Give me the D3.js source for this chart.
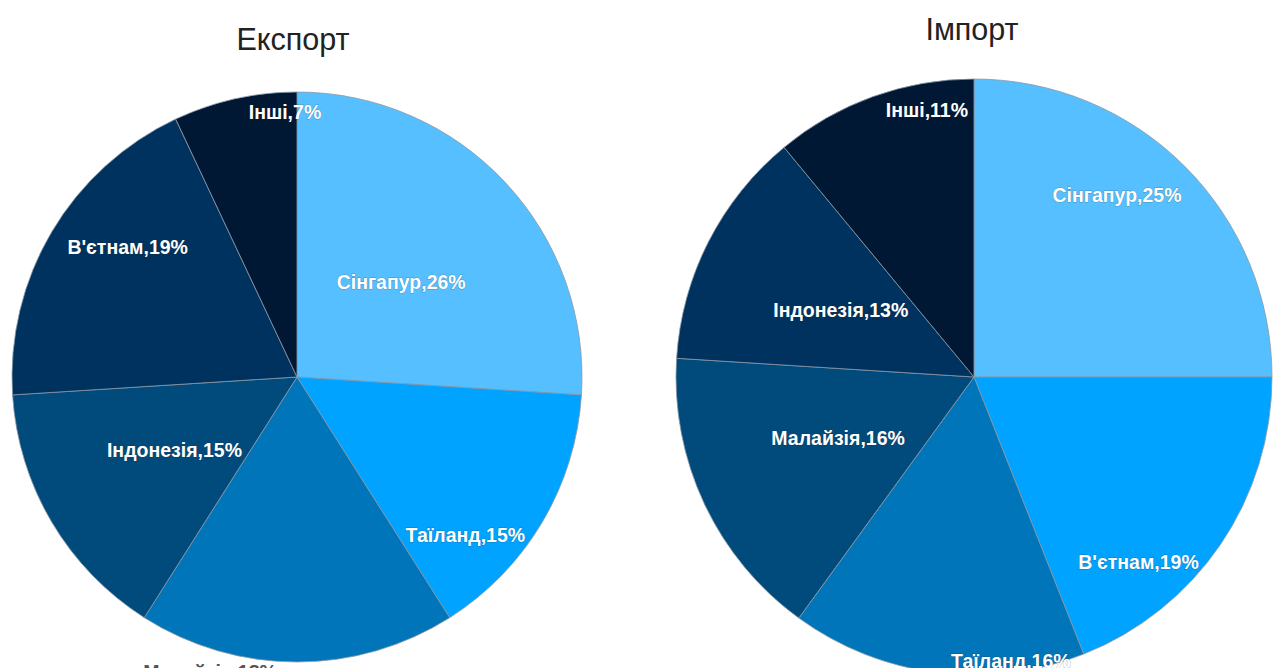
<!DOCTYPE html>
<html>
<head>
<meta charset="utf-8">
<script src="https://cdn.jsdelivr.net/npm/d3@7"></script>
<style>
  body { margin: 0; background: #fff; }
  svg { display: block; }
</style>
</head>
<body>
<div id="chart-area"></div>
<script>
// data
const exportCountries = ["Сінгапур", "Таїланд", "Малайзія", "Індонезія", "В'єтнам", "Інші"];
const exportShares = [26, 15, 18, 15, 19, 7];
const importCountries = ["Сінгапур", "В'єтнам", "Таїланд", "Малайзія", "Індонезія", "Інші"];
const importShares = [25, 19, 16, 16, 13, 11];

const sliceColors = ["#55bfff", "#00a3ff", "#0075b9", "#004b7c", "#00325f", "#001833"];

// label placement: [angle in degrees from top, fraction of radius]
const exportLabelPos = [[47.6, 0.495], [133.2, 0.81], [196.4, 1.08], [239.3, 0.5], [307.6, 0.75], [357.4, 0.93]];
const importLabelPos = [[38.2, 0.776], [138.3, 0.83], [172.6, 0.96], [245.8, 0.5], [296.6, 0.5], [350, 0.91]];

const width = 1274;
const height = 668;

const svg = d3.select("#chart-area").append("svg")
    .attr("width", width)
    .attr("height", height);

drawPie({
  title: "Експорт", titleX: 293, titleY: 50,
  cx: 297, cy: 377, r: 285,
  names: exportCountries, values: exportShares, labelPos: exportLabelPos
});

drawPie({
  title: "Імпорт", titleX: 972, titleY: 40,
  cx: 974, cy: 377, r: 298,
  names: importCountries, values: importShares, labelPos: importLabelPos
});

function drawPie(opt) {
  const g = svg.append("g")
      .attr("transform", "translate(" + opt.cx + ", " + opt.cy + ")");

  const pie = d3.pie().sort(null).value((d) => d);
  const arc = d3.arc().innerRadius(0).outerRadius(opt.r);
  const arcs = pie(opt.values);

  g.selectAll("path").data(arcs).enter().append("path")
    .attr("d", arc)
    .attr("fill", (d, i) => sliceColors[i])
    .attr("stroke", "#8a98a6")
    .attr("stroke-width", 0.8);

  g.selectAll("text.label").data(arcs).enter().append("text")
    .attr("class", "label")
    .attr("x", (d, i) => Math.sin(opt.labelPos[i][0] * Math.PI / 180) * opt.labelPos[i][1] * opt.r)
    .attr("y", (d, i) => -Math.cos(opt.labelPos[i][0] * Math.PI / 180) * opt.labelPos[i][1] * opt.r)
    .attr("text-anchor", "middle")
    .attr("dominant-baseline", "central")
    .attr("font-family", "'Liberation Sans', Arial, sans-serif")
    .attr("font-weight", "bold")
    .attr("font-size", 19.5)
    .attr("fill", (d, i) => opt.labelPos[i][1] > 1 ? "#555" : "#fff")
    .attr("stroke", (d, i) => opt.labelPos[i][1] > 1 ? "none" : "rgba(40,40,40,0.3)")
    .attr("stroke-width", 1)
    .attr("paint-order", "stroke")
    .text((d, i) => opt.names[i] + "," + d.value + "%");

  svg.append("text")
    .attr("x", opt.titleX)
    .attr("y", opt.titleY)
    .attr("text-anchor", "middle")
    .attr("font-family", "'Liberation Sans', Arial, sans-serif")
    .attr("font-size", 30.5)
    .attr("fill", "#222")
    .text(opt.title);
}
</script>
</body>
</html>
